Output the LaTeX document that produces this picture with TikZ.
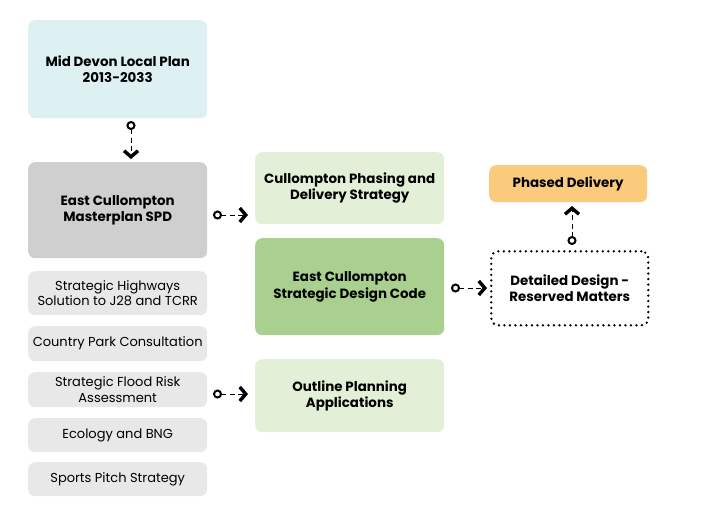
\documentclass[tikz,border=0pt]{standalone}
\usepackage{fontspec}
\setmainfont{Poppins}
\usetikzlibrary{arrows.meta}
\definecolor{cy}{HTML}{DDF0F2}
\definecolor{gd}{HTML}{CFCFCF}
\definecolor{gl}{HTML}{E8E8E8}
\definecolor{lg}{HTML}{E4EFD8}
\definecolor{dg}{HTML}{A9D08E}
\definecolor{or}{HTML}{FBCB7D}
\begin{document}
\begin{tikzpicture}[x=1pt,y=-1pt,
 box/.style={rounded corners=7pt,align=center,inner sep=0pt,anchor=north west,font=\bfseries\fontsize{13.4}{16.5}\selectfont},
 sm/.style={box,fill=gl,font=\fontsize{13}{15.5}\selectfont},
 conn/.style={dash pattern=on 5pt off 3.5pt,line width=1pt,{Circle[open,length=9pt,width=9pt,line width=2pt]}-{Straight Barb[length=6pt,width=14pt,line width=3.4pt]}}]
\useasboundingbox (0,0) rectangle (710,517);
\node[box,fill=cy,minimum width=179,minimum height=98] (lp) at (28,20) {Mid Devon Local Plan\\2013-2033};
\node[box,fill=gd,minimum width=179,minimum height=96] (mp) at (28,162) {East Cullompton\\Masterplan SPD};
\node[sm,minimum width=179,minimum height=44] (sh) at (28,271) {Strategic Highways\\Solution to J28 and TCRR};
\node[sm,minimum width=179,minimum height=35] (cp) at (28,326) {Country Park Consultation};
\node[sm,minimum width=179,minimum height=35] (fr) at (28,372) {Strategic Flood Risk\\Assessment};
\node[sm,minimum width=179,minimum height=34] (ec) at (28,418) {Ecology and BNG};
\node[sm,minimum width=179,minimum height=34] (sp) at (28,462) {Sports Pitch Strategy};
\node[box,fill=lg,minimum width=189,minimum height=72] (ph) at (255,152) {Cullompton Phasing and\\Delivery Strategy};
\node[box,fill=dg,minimum width=189,minimum height=97] (dc) at (255,238) {East Cullompton\\Strategic Design Code};
\node[box,fill=lg,minimum width=189,minimum height=73] (op) at (255,359) {Outline Planning\\Applications};
\node[box,fill=or,minimum width=158,minimum height=37] (pd) at (489,165) {Phased Delivery};
\node[box,draw,dash pattern=on 0pt off 5.5pt,line cap=round,line width=2.6pt,minimum width=157,minimum height=74] (dd) at (490,250) {Detailed Design -\\Reserved Matters};
\coordinate (a1) at (131,121); \coordinate (b1) at (131,159);
\coordinate (a2) at (213,215); \coordinate (b2) at (248,215);
\coordinate (a3) at (451,288); \coordinate (b3) at (487,288);
\coordinate (a4) at (213,394); \coordinate (b4) at (248,394);
\coordinate (a5) at (572,245); \coordinate (b5) at (572,206);
\draw[conn] (a1) -- (b1);
\draw[conn] (a2) -- (b2);
\draw[conn] (a3) -- (b3);
\draw[conn] (a4) -- (b4);
\draw[conn] (a5) -- (b5);
\end{tikzpicture}
\end{document}
